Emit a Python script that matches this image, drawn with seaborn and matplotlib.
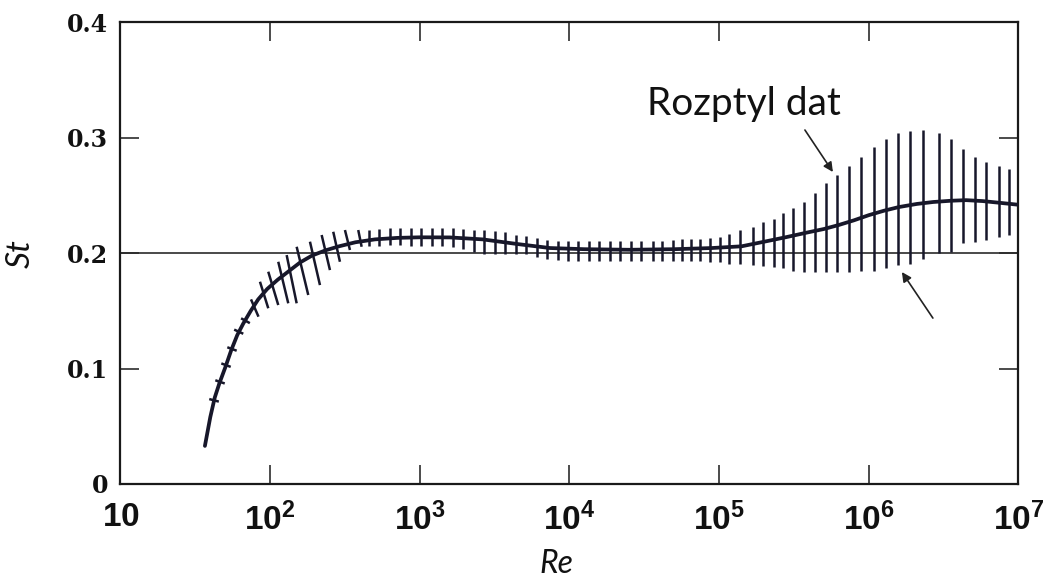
import numpy as np
import matplotlib
matplotlib.use("Agg")
import matplotlib.pyplot as plt
from matplotlib.collections import LineCollection
import seaborn as sns

# Mean Strouhal number curve St(Re); Re given as log10
curve_log_re = [1.564, 1.60, 1.63, 1.66, 1.70, 1.74, 1.78, 1.82, 1.87, 1.92,
                1.98, 2.05, 2.12, 2.20, 2.28, 2.37, 2.46, 2.57, 2.70, 2.85,
                3.00, 3.20, 3.42, 3.65, 3.87, 4.10, 4.40, 4.70, 4.95, 5.15,
                5.32, 5.45, 5.59, 5.70, 5.80, 5.90, 6.00, 6.10, 6.20, 6.32,
                6.43, 6.55, 6.65, 6.76, 6.875, 7.00]
curve_st = [0.033, 0.058, 0.075, 0.087, 0.101, 0.116, 0.129, 0.139, 0.150, 0.160,
            0.169, 0.177, 0.184, 0.192, 0.198, 0.2025, 0.206, 0.2095, 0.212, 0.2133,
            0.2138, 0.2137, 0.212, 0.208, 0.2045, 0.2035, 0.203, 0.2035, 0.2045, 0.206,
            0.2105, 0.214, 0.218, 0.221, 0.2245, 0.2285, 0.233, 0.2368, 0.240, 0.2427,
            0.2444, 0.2455, 0.246, 0.2452, 0.2437, 0.242]

# Data scatter on the rising branch: slanted bars, upper and lower ends
slant_top_log_re = [1.593, 1.6335, 1.6736, 1.7137, 1.7596, 1.8058, 1.872, 1.9319, 1.9873,
                    2.0541, 2.1102, 2.1770, 2.2659, 2.3440, 2.4215, 2.4997, 2.5885]
slant_top_st = [0.0736, 0.0899, 0.1045, 0.1185, 0.1338, 0.1436, 0.160, 0.1753, 0.1840,
                0.1926, 0.1984, 0.2056, 0.2100, 0.2158, 0.2186, 0.2201, 0.2201]
slant_bot_log_re = [1.657, 1.6965, 1.7364, 1.7763, 1.8204, 1.8642, 1.922, 1.9873, 2.0541,
                    2.1209, 2.1770, 2.2545, 2.3327, 2.3995, 2.4662, 2.5331, 2.6112]
slant_bot_st = [0.0714, 0.0871, 0.1015, 0.1155, 0.1302, 0.1394, 0.145, 0.1523, 0.1551,
                0.1566, 0.1566, 0.1638, 0.1724, 0.1854, 0.1926, 0.2028, 0.2056]

# Data scatter at higher Re: vertical bars
bar_log_re = [2.66, 2.73, 2.80, 2.87, 2.94, 3.01, 3.08, 3.15, 3.22, 3.29,
              3.36, 3.43, 3.50, 3.57, 3.64, 3.71, 3.78, 3.85, 3.92, 3.99,
              4.06, 4.13, 4.20, 4.27, 4.34, 4.41, 4.48, 4.555, 4.62, 4.69,
              4.75, 4.81, 4.87, 4.94, 5.005, 5.067, 5.138, 5.227, 5.294, 5.366,
              5.428, 5.494, 5.566, 5.639, 5.713, 5.788, 5.868, 5.951, 6.033, 6.114,
              6.192, 6.274, 6.363, 6.470, 6.546, 6.626, 6.708, 6.786, 6.870, 6.937]
bar_st_hi = [0.2205, 0.221, 0.2215, 0.222, 0.222, 0.222, 0.222, 0.2215, 0.2215, 0.221,
             0.2205, 0.220, 0.219, 0.218, 0.216, 0.2145, 0.213, 0.2115, 0.211, 0.2105,
             0.2105, 0.2105, 0.2105, 0.2105, 0.2105, 0.2105, 0.2105, 0.211, 0.211, 0.2115,
             0.212, 0.212, 0.2125, 0.213, 0.214, 0.217, 0.220, 0.223, 0.227, 0.230,
             0.2346, 0.239, 0.2446, 0.252, 0.2606, 0.2678, 0.2756, 0.2836, 0.2917, 0.299,
             0.304, 0.306, 0.307, 0.304, 0.299, 0.290, 0.283, 0.279, 0.2756, 0.273]
bar_st_lo = [0.206, 0.2065, 0.207, 0.207, 0.2065, 0.2065, 0.2065, 0.206, 0.205, 0.2035,
             0.201, 0.1995, 0.1995, 0.1995, 0.1995, 0.199, 0.197, 0.195, 0.194, 0.1935,
             0.1935, 0.1935, 0.1935, 0.1935, 0.1935, 0.1935, 0.1935, 0.1935, 0.1935, 0.1935,
             0.193, 0.193, 0.193, 0.1926, 0.1926, 0.191, 0.1905, 0.1895, 0.189, 0.188,
             0.187, 0.185, 0.184, 0.184, 0.184, 0.184, 0.184, 0.1849, 0.185, 0.187,
             0.190, 0.191, 0.195, 0.200, 0.201, 0.2086, 0.210, 0.2114, 0.2143, 0.2158]

reference_st = 0.2

x_ticks = [1e1, 1e2, 1e3, 1e4, 1e5, 1e6, 1e7]
x_tick_labels = ["$10$", "$10^{2}$", "$10^{3}$", "$10^{4}$", "$10^{5}$", "$10^{6}$", "$10^{7}$"]
y_ticks = [0.0, 0.1, 0.2, 0.3, 0.4]
y_tick_labels = ["0", "0.1", "0.2", "0.3", "0.4"]

annotation_text = "Rozptyl dat"

sns.set_theme(style="ticks")
plt.rcParams["font.family"] = ["Lato", "DejaVu Sans"]
plt.rcParams["mathtext.fontset"] = "custom"
plt.rcParams["mathtext.rm"] = "Liberation Sans:bold"
plt.rcParams["mathtext.it"] = "Liberation Sans:bold"
plt.rcParams["mathtext.bf"] = "Liberation Sans:bold"

ink = "#17172a"

fig = plt.figure(figsize=(10.46, 5.82), dpi=100)
fig.patch.set_facecolor("white")
ax = fig.add_axes([0.1152, 0.1684, 0.8585, 0.7930])
ax.set_facecolor("white")

ax.set_xscale("log")
ax.set_xlim(1e1, 1e7)
ax.set_ylim(0.0, 0.4)

# reference level St = 0.2
ax.axhline(reference_st, color="#2a2a2a", lw=1.2, zorder=1)

# mean curve
curve_re = np.power(10.0, curve_log_re)
sns.lineplot(x=curve_re, y=curve_st, ax=ax, color=ink, lw=2.7,
             estimator=None, sort=False, zorder=3)

# slanted scatter bars
slant_segments = [
    [(10 ** xt, yt), (10 ** xb, yb)]
    for xt, yt, xb, yb in zip(slant_top_log_re, slant_top_st, slant_bot_log_re, slant_bot_st)
]
ax.add_collection(LineCollection(slant_segments, colors=ink, linewidths=1.8, zorder=2))

# vertical scatter bars
bar_re = np.power(10.0, bar_log_re)
ax.vlines(bar_re, bar_st_lo, bar_st_hi, colors=ink, linewidths=1.8, zorder=2)

# annotation with two arrows
ax.text(10 ** 5.165, 0.3198, annotation_text, ha="center", va="baseline",
        fontsize=28, color="#111111", family=["Lato", "DejaVu Sans"])
arrow_style = dict(arrowstyle="-|>", color="#222222", lw=1.2,
                   mutation_scale=14, shrinkA=0, shrinkB=0)
ax.annotate("", xy=(10 ** 5.760, 0.2704), xytext=(10 ** 5.573, 0.3068),
            arrowprops=arrow_style)
ax.annotate("", xy=(10 ** 6.221, 0.1837), xytext=(10 ** 6.428, 0.1438),
            arrowprops=arrow_style)

# axes frame and ticks
for side in ax.spines.values():
    side.set_linewidth(1.6)
    side.set_color("#1a1a1a")

ax.set_xticks(x_ticks, labels=x_tick_labels, fontsize=24, color="#111111")
ax.set_yticks(y_ticks, labels=y_tick_labels, fontsize=17, color="#111111",
              fontfamily="DejaVu Serif", fontweight="bold")
ax.minorticks_off()
ax.tick_params(axis="both", which="major", direction="in", length=13.5, width=1.1,
               color="#1a1a1a", top=True, right=True)
ax.tick_params(axis="x", pad=13)
ax.tick_params(axis="y", pad=9)

ax.set_xlabel("Re", fontsize=23, fontstyle="italic", color="#111111")
ax.set_ylabel("St", fontsize=24, fontstyle="italic", color="#111111")
ax.xaxis.set_label_coords(0.486, -0.140)
ax.yaxis.set_label_coords(-0.094, 0.5)

fig.savefig("out.png", dpi=100, facecolor="white")
